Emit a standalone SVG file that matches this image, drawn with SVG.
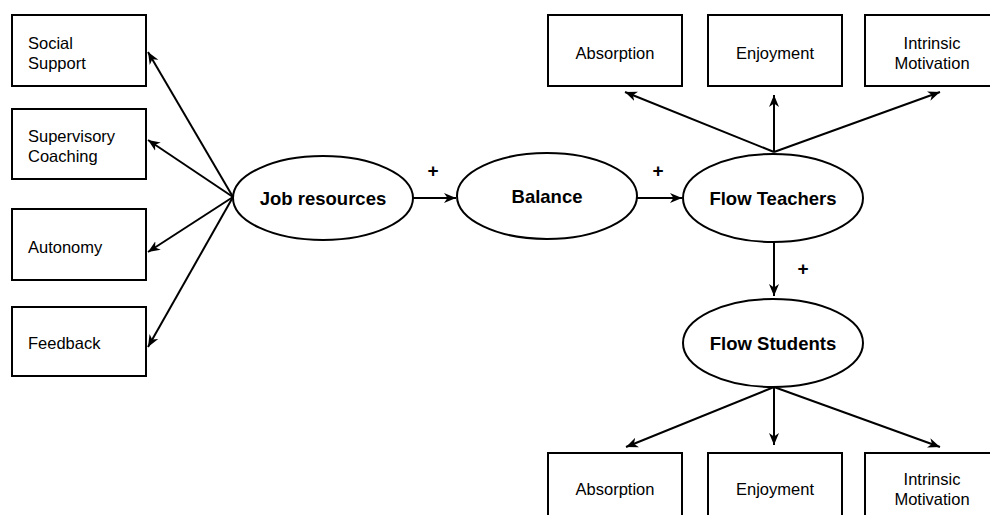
<svg xmlns="http://www.w3.org/2000/svg" width="990" height="515" viewBox="0 0 990 515">
<defs>
<marker id="arr" markerUnits="userSpaceOnUse" markerWidth="14" markerHeight="12" refX="12" refY="6" orient="auto">
<path d="M0,1 L12,6 L0,11 L3.5,6 Z" fill="#000"/>
</marker>
<style>
.box{fill:#fff;stroke:#000;stroke-width:2}
.ell{fill:#fff;stroke:#000;stroke-width:2}
.t{font-family:"Liberation Sans",Arial,sans-serif;font-size:16.5px;fill:#000}
.c{text-anchor:middle}
.b{font-family:"Liberation Sans",Arial,sans-serif;font-size:18.5px;font-weight:bold;fill:#000;text-anchor:middle}
.p{font-family:"Liberation Sans",Arial,sans-serif;font-size:19px;font-weight:bold;fill:#000;text-anchor:middle}
.ln{stroke:#000;stroke-width:2;fill:none;marker-end:url(#arr)}
</style>
</defs>
<rect width="990" height="515" fill="#fff"/>
<g id="connectors">
<line class="ln" x1="233" y1="197" x2="148" y2="52"/>
<line class="ln" x1="233" y1="197" x2="148" y2="140"/>
<line class="ln" x1="233" y1="197" x2="148" y2="252"/>
<line class="ln" x1="233" y1="197" x2="148" y2="347"/>
<line class="ln" x1="413" y1="198" x2="456" y2="198"/>
<line class="ln" x1="637" y1="198" x2="682" y2="198"/>
<line class="ln" x1="774" y1="152" x2="625" y2="92"/>
<line class="ln" x1="774" y1="152" x2="774" y2="95"/>
<line class="ln" x1="774" y1="152" x2="940" y2="92"/>
<line class="ln" x1="774" y1="242" x2="774" y2="296"/>
<line class="ln" x1="774" y1="387" x2="626" y2="447"/>
<line class="ln" x1="774" y1="387" x2="774" y2="445"/>
<line class="ln" x1="774" y1="387" x2="940" y2="447"/>
<text class="p" x="433" y="177">+</text>
<text class="p" x="658" y="177">+</text>
<text class="p" x="803" y="275">+</text>
</g>
<g id="social-support"><rect class="box" x="12" y="15" width="134" height="71"/><text class="t" x="28" y="49">Social</text><text class="t" x="28" y="69">Support</text></g>
<g id="supervisory-coaching"><rect class="box" x="12" y="109" width="134" height="70"/><text class="t" x="28" y="142">Supervisory</text><text class="t" x="28" y="162">Coaching</text></g>
<g id="autonomy"><rect class="box" x="12" y="209" width="134" height="71"/><text class="t" x="28" y="253">Autonomy</text></g>
<g id="feedback"><rect class="box" x="12" y="307" width="134" height="69"/><text class="t" x="28" y="349">Feedback</text></g>
<g id="job-resources"><ellipse class="ell" cx="323" cy="198" rx="90" ry="42"/><text class="b" x="323" y="205">Job resources</text></g>
<g id="balance"><ellipse class="ell" cx="547" cy="196" rx="90" ry="43"/><text class="b" x="547" y="203">Balance</text></g>
<g id="flow-teachers"><ellipse class="ell" cx="773" cy="198" rx="90" ry="44"/><text class="b" x="773" y="205">Flow Teachers</text></g>
<g id="flow-students"><ellipse class="ell" cx="773" cy="343" rx="90" ry="44"/><text class="b" x="773" y="350">Flow Students</text></g>
<g id="absorption-t"><rect class="box" x="548" y="15" width="134" height="71"/><text class="t c" x="615" y="59">Absorption</text></g>
<g id="enjoyment-t"><rect class="box" x="708" y="15" width="134" height="71"/><text class="t c" x="775" y="59">Enjoyment</text></g>
<g id="intrinsic-t"><rect class="box" x="865" y="15" width="134" height="71"/><text class="t c" x="932" y="49">Intrinsic</text><text class="t c" x="932" y="69">Motivation</text></g>
<g id="absorption-s"><rect class="box" x="548" y="453" width="134" height="71"/><text class="t c" x="615" y="495">Absorption</text></g>
<g id="enjoyment-s"><rect class="box" x="708" y="453" width="134" height="71"/><text class="t c" x="775" y="495">Enjoyment</text></g>
<g id="intrinsic-s"><rect class="box" x="865" y="453" width="134" height="71"/><text class="t c" x="932" y="485">Intrinsic</text><text class="t c" x="932" y="505">Motivation</text></g>
</svg>
